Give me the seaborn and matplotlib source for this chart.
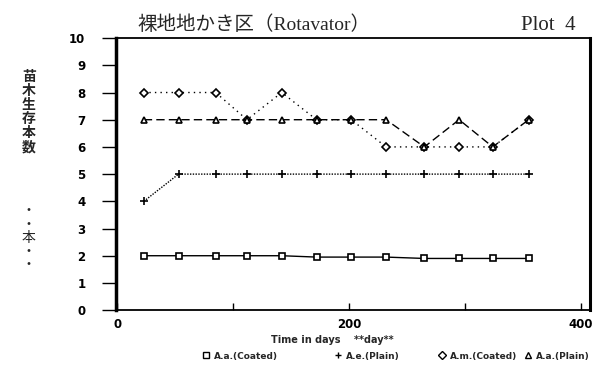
import matplotlib
matplotlib.use("Agg")
import matplotlib.pyplot as plt
from matplotlib.lines import Line2D
import seaborn as sns

days = [23, 53, 85, 112, 142, 172, 202, 232, 265, 295, 324, 355]
aa_coated = [2, 2, 2, 2, 2, 1.95, 1.95, 1.95, 1.9, 1.9, 1.9, 1.9]
ae_plain = [4, 5, 5, 5, 5, 5, 5, 5, 5, 5, 5, 5]
am_coated = [8, 8, 8, 7, 8, 7, 7, 6, 6, 6, 6, 7]
aa_plain = [7, 7, 7, 7, 7, 7, 7, 7, 6, 7, 6, 7]

labels = ["A.a.(Coated)", "A.e.(Plain)", "A.m.(Coated)", "A.a.(Plain)"]
x_ticks = [0, 100, 200, 300, 400]
x_ticklabels = ["0", "", "200", "", "400"]
y_ticks = list(range(0, 11))

sns.set_theme(style="white")
plt.rcParams['font.family'] = ['DejaVu Sans', 'Noto Sans CJK JP']

fig = plt.figure(figsize=(6.04, 3.81), dpi=100)
ax = fig.add_axes([0.192, 0.186, 0.785, 0.714])

series = [
    (aa_coated, 's', '-', 5),
    (ae_plain, '+', (0, (1, 1)), 6),
    (am_coated, 'D', (0, (1, 3)), 4),
    (aa_plain, '^', (0, (6, 3)), 5),
]
for vals, mk, ls, ms in series:
    sns.lineplot(x=days, y=vals, ax=ax, color='black', marker=mk, markersize=ms,
                 markerfacecolor='white', markeredgecolor='black', markeredgewidth=1.2,
                 linestyle=ls, linewidth=1.0)

ax.set_xlim(-1, 408)
ax.set_ylim(0, 10)
ax.set_xticks(x_ticks)
ax.set_xticklabels(x_ticklabels)
ax.set_yticks(y_ticks)
ax.tick_params(axis='x', direction='in', length=5, width=1, colors='black', labelsize=8.5, pad=6)
ax.tick_params(axis='y', direction='out', length=10, width=1, colors='black', labelsize=8.5, pad=12)
ax.tick_params(axis='both', which='both', bottom=True, left=True)
for lab in ax.get_xticklabels() + ax.get_yticklabels():
    lab.set_fontweight('bold')
for s in ax.spines.values():
    s.set_color('black')
    s.set_visible(True)
ax.spines['left'].set_linewidth(2.5)
ax.spines['right'].set_linewidth(2.2)
ax.spines['top'].set_linewidth(1.3)
ax.spines['bottom'].set_linewidth(1.3)
ax.set_xlabel("")
ax.set_ylabel("")
ax.grid(False)

fig.text(0.227, 0.922, "裸地地かき区（Rotavator）", fontsize=14,
         family=['Liberation Serif', 'Noto Sans CJK JP'], ha='left', va='baseline')
fig.text(0.862, 0.922, "Plot  4", fontsize=15, family=['Liberation Serif'],
         ha='left', va='baseline')

fig.text(0.048, 0.705, "苗\n木\n生\n存\n本\n数", fontsize=10,
         family=['Noto Sans CJK JP'], ha='center', va='center', linespacing=1.0,
         fontweight='bold')
fig.text(0.048, 0.375, "・\n・\n本\n・\n・", fontsize=10,
         family=['Noto Sans CJK JP'], ha='center', va='center', linespacing=0.95)

fig.text(0.55, 0.108, "Time in days    **day**", fontsize=7, ha='center', va='center',
         fontweight='bold')

def handle(mk, ms):
    return Line2D([], [], color='black', marker=mk, markersize=ms, linestyle='none',
                  markerfacecolor='white', markeredgewidth=1.0)

legend_specs = [('s', 5, 205), ('+', 5, 337), ('D', 4, 441), ('^', 5, 527)]
for (mk, ms, px), lab in zip(legend_specs, labels):
    leg = fig.legend([handle(mk, ms)], [lab], loc='center left',
                     bbox_to_anchor=((px - 3) / 604, 1 - 356 / 381), frameon=False,
                     prop={'size': 6.5, 'weight': 'bold'}, handlelength=0.8,
                     handletextpad=0.5, borderpad=0, borderaxespad=0)

fig.savefig("out.png", dpi=100)
